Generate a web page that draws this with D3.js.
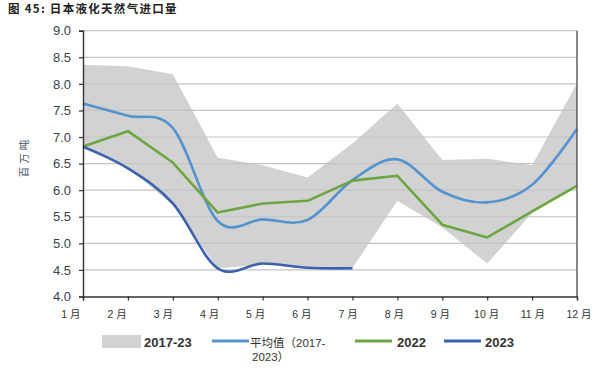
<!DOCTYPE html>
<html>
<head>
<meta charset="utf-8">
<script src="https://cdn.jsdelivr.net/npm/d3@7"></script>
<style>
  body { margin: 0; background: #fff; }
  svg { display: block; }
  .tick text { font-family: "Liberation Sans", "Open Sans", sans-serif; }
</style>
</head>
<body>
<div id="chart"></div>
<script>
// months on the category axis
var months = ["1 月", "2 月", "3 月", "4 月", "5 月", "6 月", "7 月", "8 月", "9 月", "10 月", "11 月", "12 月"];
// range 2017-23 (min / max)
var bandLow = [6.78, 6.42, 5.72, 4.53, 4.60, 4.54, 4.54, 5.80, 5.30, 4.62, 5.57, 6.07];
var bandHigh = [8.36, 8.33, 8.18, 6.61, 6.47, 6.24, 6.88, 7.63, 6.57, 6.59, 6.47, 8.01];
// average 2017-2023
var avgVals = [7.63, 7.40, 7.17, 5.42, 5.45, 5.44, 6.19, 6.58, 5.97, 5.77, 6.10, 7.15];
var vals2022 = [6.82, 7.11, 6.52, 5.58, 5.75, 5.80, 6.18, 6.27, 5.35, 5.11, 5.60, 6.08];
var vals2023 = [6.82, 6.41, 5.75, 4.53, 4.62, 4.54, 4.53];
var yTicks = [4.0, 4.5, 5.0, 5.5, 6.0, 6.5, 7.0, 7.5, 8.0, 8.5, 9.0];

var W = 596, H = 377;
var colBand = "#d3d2d3", colAvg = "#5593cf", col22 = "#6ea541", col23 = "#3b62ae";

var svg = d3.select("#chart").append("svg").attr("width", W).attr("height", H);

var x = d3.scalePoint().domain(months).range([83, 577]);
var xLab = d3.scalePoint().domain(months).range([71, 579]);
var y = d3.scaleLinear().domain([4, 9]).range([296.5, 30.7]);

// title
svg.append("text")
  .attr("x", 8).attr("y", 13)
  .attr("font-family", "'Noto Sans CJK SC', sans-serif")
  .attr("font-size", 11.5).attr("font-weight", "bold")
  .attr("letter-spacing", 1.3)
  .attr("fill", "#222")
  .text("图 45:  日本液化天然气进口量");

// band
var band = d3.area()
  .x(function(d, i) { return x(months[i]); })
  .y0(function(d, i) { return y(bandLow[i]); })
  .y1(function(d) { return y(d); });
svg.append("path").datum(bandHigh).attr("d", band).attr("fill", colBand);

// gridlines
svg.append("g").selectAll("line")
  .data(yTicks.slice(1)).enter().append("line")
  .attr("x1", 83).attr("x2", 577)
  .attr("y1", function(d) { return y(d); }).attr("y2", function(d) { return y(d); })
  .attr("stroke", "#c4c4c4").attr("stroke-width", 1.2);

// lines
function addLine(vals, col, curve) {
  var line = d3.line()
    .x(function(d, i) { return x(months[i]); })
    .y(function(d) { return y(d); })
    .curve(curve);
  svg.append("path").datum(vals).attr("d", line)
    .attr("fill", "none").attr("stroke", col)
    .attr("stroke-width", 2.6).attr("stroke-linejoin", "round");
}
addLine(avgVals, colAvg, d3.curveCardinal.tension(0));
addLine(vals2022, col22, d3.curveLinear);
addLine(vals2023, col23, d3.curveCardinal.tension(0));

// right border
svg.append("line").attr("x1", 577).attr("x2", 577)
  .attr("y1", y(9)).attr("y2", y(4))
  .attr("stroke", "#555").attr("stroke-width", 1.4);

// y axis
var yAxis = svg.append("g").attr("transform", "translate(83,0)")
  .call(d3.axisLeft(y).tickValues(yTicks).tickFormat(d3.format(".1f")).tickSize(4).tickPadding(8));
yAxis.select(".domain").attr("stroke", "#333").attr("stroke-width", 1.4);
yAxis.selectAll(".tick line").attr("stroke", "#333").attr("stroke-width", 1.2);
yAxis.selectAll(".tick text").attr("font-size", 13).attr("fill", "#3a3f50");

// x axis
var xAxis = svg.append("g").attr("transform", "translate(0," + y(4) + ")")
  .call(d3.axisBottom(x).tickSize(4).tickFormat(""));
xAxis.select(".domain").attr("stroke", "#333").attr("stroke-width", 1.4);
xAxis.selectAll(".tick line").attr("stroke", "#333").attr("stroke-width", 1.2);

svg.append("g").selectAll("text")
  .data(months).enter().append("text")
  .attr("x", function(d) { return xLab(d); }).attr("y", 318)
  .attr("text-anchor", "middle")
  .attr("font-family", "'Liberation Sans', 'Noto Sans CJK SC', sans-serif")
  .attr("font-size", 10.5).attr("fill", "#333")
  .text(function(d) { return d; });

// y title
svg.append("text")
  .attr("transform", "translate(28,157) rotate(-90)")
  .attr("text-anchor", "middle")
  .attr("font-family", "'Noto Sans CJK SC', sans-serif")
  .attr("font-size", 10.5).attr("letter-spacing", 3)
  .attr("fill", "#4a5063")
  .text("百万吨");

// legend
var lg = svg.append("g")
  .attr("font-family", "'Liberation Sans', 'Noto Sans CJK SC', sans-serif")
  .attr("fill", "#333");
lg.append("rect").attr("x", 102).attr("y", 335).attr("width", 39).attr("height", 13).attr("fill", colBand);
lg.append("text").attr("x", 144).attr("y", 347).attr("font-size", 13).attr("font-weight", "bold").text("2017-23");

var legItems = [
  { x: 212, col: colAvg },
  { x: 355, col: col22 },
  { x: 444, col: col23 }
];
lg.selectAll("line.leg").data(legItems).enter().append("line")
  .attr("x1", function(d) { return d.x; }).attr("x2", function(d) { return d.x + 37; })
  .attr("y1", 341).attr("y2", 341)
  .attr("stroke", function(d) { return d.col; }).attr("stroke-width", 2.8);

lg.append("text").attr("x", 250).attr("y", 347).attr("font-size", 11.5).text("平均值（2017-");
lg.append("text").attr("x", 252).attr("y", 361).attr("font-size", 11.5).text("2023）");
lg.append("text").attr("x", 397).attr("y", 347).attr("font-size", 13).attr("font-weight", "bold").text("2022");
lg.append("text").attr("x", 485).attr("y", 347).attr("font-size", 13).attr("font-weight", "bold").text("2023");
</script>
</body>
</html>
